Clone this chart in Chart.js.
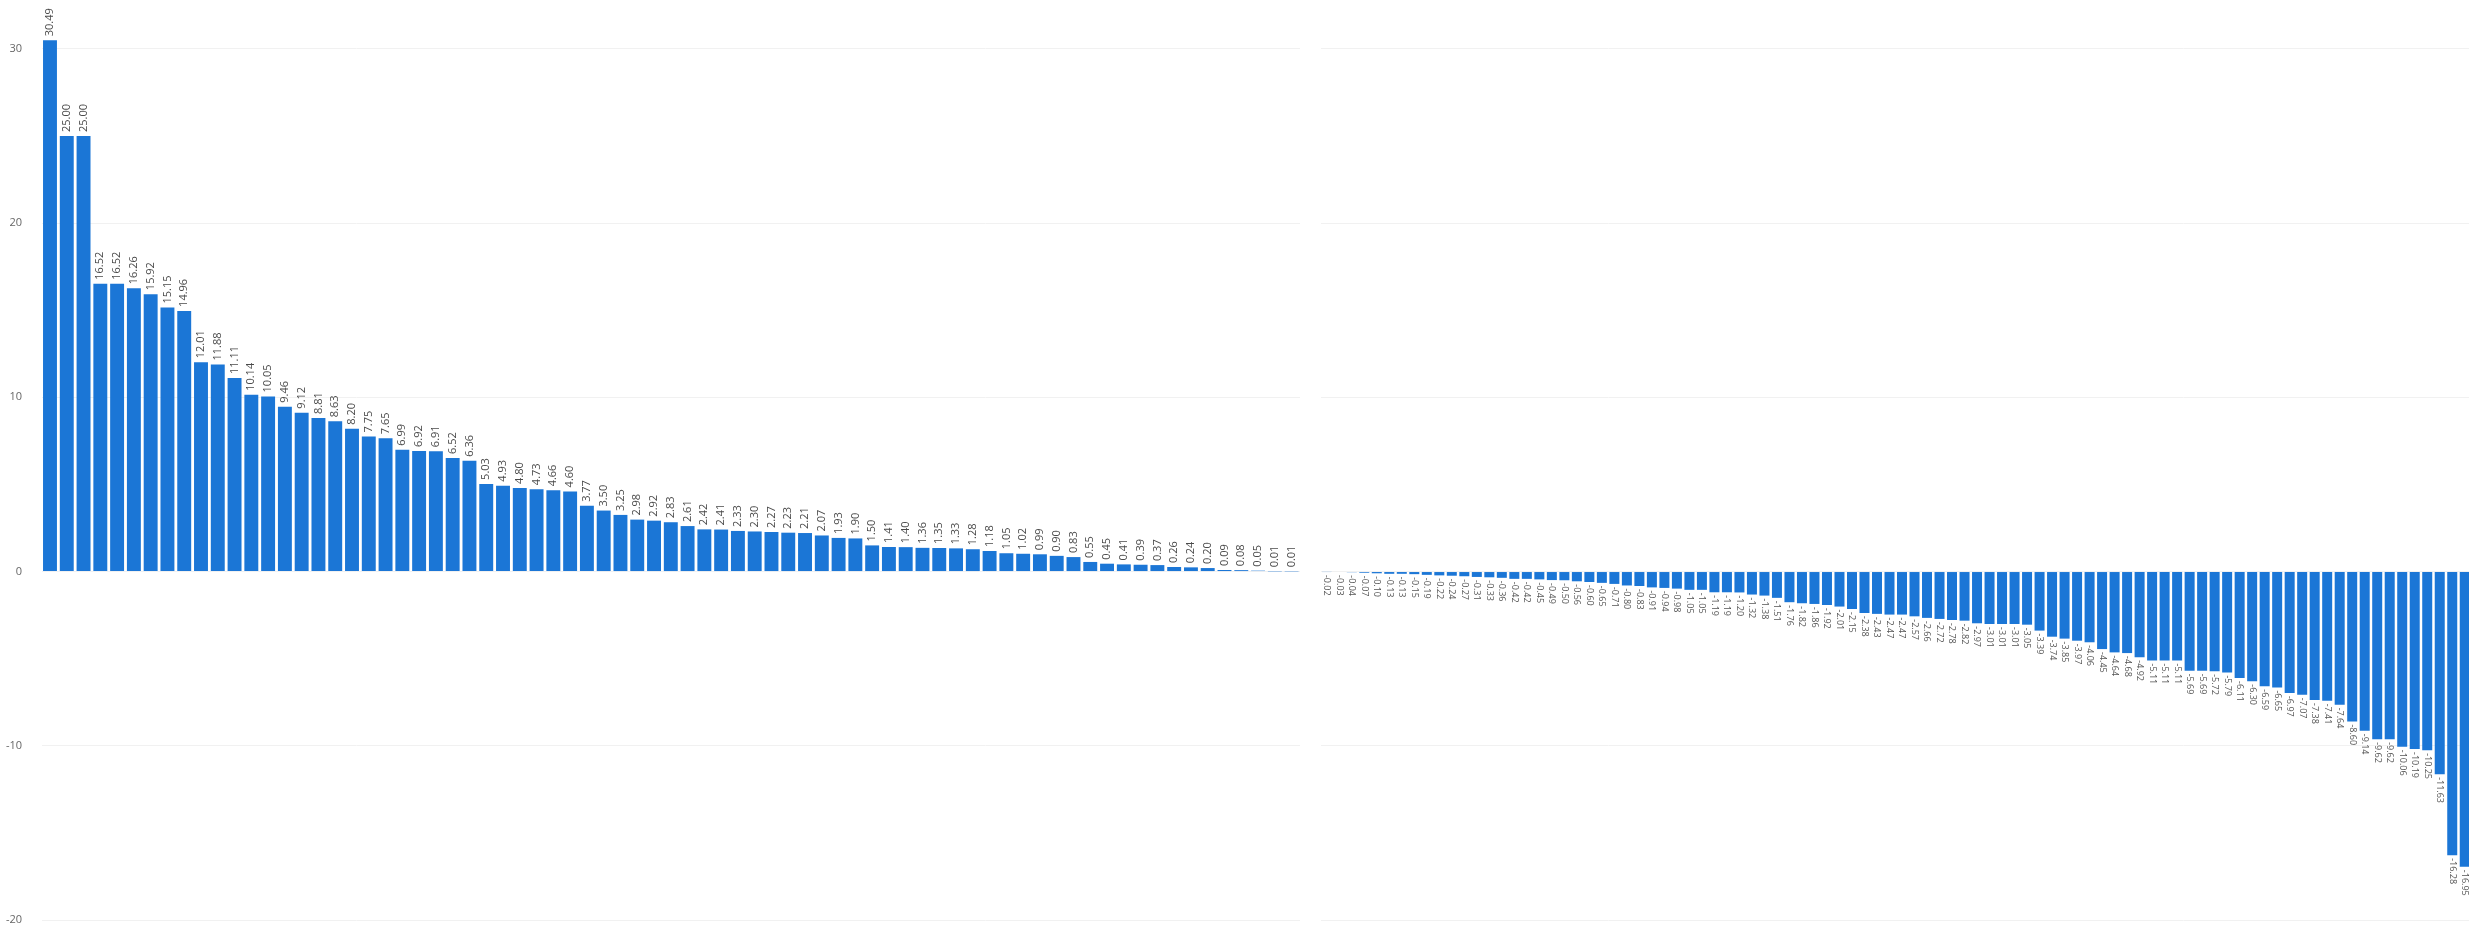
<!DOCTYPE html>
<html>
<head>
<meta charset="utf-8">
<script src="https://cdn.jsdelivr.net/npm/chart.js@4.4.1/dist/chart.umd.min.js"></script>
<style>
  html, body { margin: 0; padding: 0; background: #ffffff; overflow: hidden; width: 2469px; height: 927px; }
  #wrap { position: relative; width: 2469px; height: 927px; }
  #leftChart { position: absolute; left: 0; top: 0; }
  #rightChart { position: absolute; left: 1300px; top: 0; }
</style>
</head>
<body>
<div id="wrap">
  <canvas id="leftChart" width="1300" height="927"></canvas>
  <canvas id="rightChart" width="1171" height="927"></canvas>
</div>
<script>
// ---- Data ----
const positiveValues = [
  30.49, 25.00, 25.00, 16.52, 16.52, 16.26, 15.92, 15.15, 14.96, 12.01,
  11.88, 11.11, 10.14, 10.05, 9.46, 9.12, 8.81, 8.63, 8.20, 7.75,
  7.65, 6.99, 6.92, 6.91, 6.52, 6.36, 5.03, 4.93, 4.80, 4.73,
  4.66, 4.60, 3.77, 3.50, 3.25, 2.98, 2.92, 2.83, 2.61, 2.42,
  2.41, 2.33, 2.30, 2.27, 2.23, 2.21, 2.07, 1.93, 1.90, 1.50,
  1.41, 1.40, 1.36, 1.35, 1.33, 1.28, 1.18, 1.05, 1.02, 0.99,
  0.90, 0.83, 0.55, 0.45, 0.41, 0.39, 0.37, 0.26, 0.24, 0.20,
  0.09, 0.08, 0.05, 0.01, 0.01
];
const negativeValues = [
  -0.02, -0.03, -0.04, -0.07, -0.10, -0.13, -0.13, -0.15, -0.19, -0.22,
  -0.24, -0.27, -0.31, -0.33, -0.36, -0.42, -0.42, -0.45, -0.49, -0.50,
  -0.56, -0.60, -0.65, -0.71, -0.80, -0.83, -0.91, -0.94, -0.98, -1.05,
  -1.05, -1.19, -1.19, -1.20, -1.32, -1.38, -1.51, -1.76, -1.82, -1.86,
  -1.92, -2.01, -2.15, -2.38, -2.43, -2.47, -2.47, -2.57, -2.66, -2.72,
  -2.78, -2.82, -2.97, -3.01, -3.01, -3.01, -3.05, -3.39, -3.74, -3.85,
  -3.97, -4.06, -4.45, -4.64, -4.68, -4.92, -5.11, -5.11, -5.11, -5.69,
  -5.69, -5.72, -5.79, -6.11, -6.30, -6.59, -6.65, -6.97, -7.07, -7.38,
  -7.41, -7.64, -8.60, -9.14, -9.62, -9.62, -10.06, -10.19, -10.25, -11.63,
  -16.28, -16.95
];
const yTicks = [-20, -10, 0, 10, 20, 30];
const positiveCategories = positiveValues.map((_, i) => 'P' + (i + 1));
const negativeCategories = negativeValues.map((_, i) => 'N' + (i + 1));

const BAR_COLOR = '#1b76d6';
const GRID_COLOR = '#f1f1f1';

// Plugin drawing rotated value labels at bar ends
const valueLabels = {
  id: 'valueLabels',
  afterDatasetsDraw(chart, args, opts) {
    const ctx = chart.ctx;
    const meta = chart.getDatasetMeta(0);
    const data = chart.data.datasets[0].data;
    ctx.save();
    ctx.fillStyle = opts.color || '#4a4a4a';
    ctx.font = opts.font || '11px "Open Sans", sans-serif';
    ctx.textBaseline = 'middle';
    ctx.textAlign = 'left';
    meta.data.forEach((bar, i) => {
      const v = data[i];
      if (v === null || v === undefined) return;
      const txt = v.toFixed(2);
      ctx.save();
      if (v >= 0) {
        ctx.translate(bar.x, bar.y - (opts.offset || 4));
        ctx.rotate(-Math.PI / 2);
      } else {
        ctx.translate(bar.x, bar.y + (opts.offset || 4));
        ctx.rotate(Math.PI / 2);
      }
      ctx.fillText(txt, 0, 0);
      ctx.restore();
    });
    ctx.restore();
  }
};

// Plugin drawing the y tick labels at the library scale's tick positions
const yTickLabels = {
  id: 'yTickLabels',
  afterDraw(chart, args, opts) {
    if (!opts.show) return;
    const ctx = chart.ctx;
    const scale = chart.scales.y;
    ctx.save();
    ctx.fillStyle = '#666666';
    ctx.font = '11px "Open Sans", sans-serif';
    ctx.textAlign = 'right';
    ctx.textBaseline = 'middle';
    scale.ticks.forEach(t => {
      ctx.fillText(String(t.value), opts.x, scale.getPixelForValue(t.value));
    });
    ctx.restore();
  }
};

function yScale() {
  return {
    min: -20,
    max: 32,
    afterBuildTicks: (axis) => { axis.ticks = yTicks.map(v => ({ value: v })); },
    afterFit: (axis) => { axis.width = 0; },
    grid: { color: GRID_COLOR, drawTicks: false, lineWidth: 1 },
    border: { display: false },
    ticks: { display: false }
  };
}

Chart.defaults.animation = false;

new Chart(document.getElementById('leftChart'), {
  type: 'bar',
  data: {
    labels: positiveCategories,
    datasets: [{
      data: positiveValues,
      backgroundColor: BAR_COLOR,
      barPercentage: 0.83,
      categoryPercentage: 1.0,
      clip: false
    }]
  },
  options: {
    responsive: false,
    devicePixelRatio: 1,
    animation: false,
    layout: { padding: { top: 14, bottom: 7, left: 41.6, right: 0 } },
    plugins: {
      legend: { display: false },
      tooltip: { enabled: false },
      valueLabels: { font: '11px "Open Sans", sans-serif', color: '#4a4a4a', offset: 4 },
      yTickLabels: { show: true, x: 22 }
    },
    scales: {
      x: { display: false },
      y: yScale()
    }
  },
  plugins: [valueLabels, yTickLabels]
});

new Chart(document.getElementById('rightChart'), {
  type: 'bar',
  data: {
    labels: negativeCategories,
    datasets: [{
      data: negativeValues,
      backgroundColor: BAR_COLOR,
      barPercentage: 0.8,
      categoryPercentage: 1.0,
      clip: false
    }]
  },
  options: {
    responsive: false,
    devicePixelRatio: 1,
    animation: false,
    layout: { padding: { top: 14, bottom: 7, left: 20.5, right: 0 } },
    plugins: {
      legend: { display: false },
      tooltip: { enabled: false },
      valueLabels: { font: '9px "Open Sans", sans-serif', color: '#555555', offset: 3 },
      yTickLabels: { show: false }
    },
    scales: {
      x: { display: false },
      y: yScale()
    }
  },
  plugins: [valueLabels, yTickLabels]
});
</script>
</body>
</html>
